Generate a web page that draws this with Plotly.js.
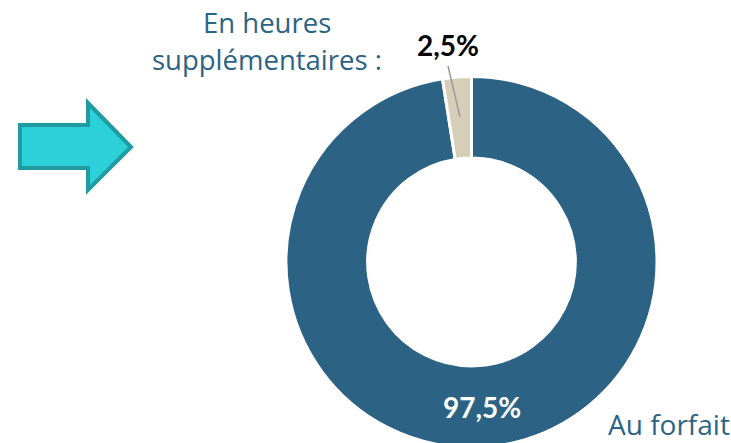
<!DOCTYPE html>
<html>
<head>
<meta charset="utf-8">
<script src="https://cdn.plot.ly/plotly-3.0.1.min.js"></script>
<style>
html,body{margin:0;padding:0;overflow:hidden;background:#fff;width:731px;height:443px;}
#chart{width:731px;height:524px;}
</style>
</head>
<body>
<div id="chart"></div>
<script>
// Data
const categories = ["Au forfait", "En heures supplémentaires :"];
const values = [97.5, 2.5];
const valueLabels = ["97,5%", "2,5%"];
const sliceColors = ["#2C6385", "#D6CEB8"];

const W = 731, H = 524;
const px = x => x / W;
const py = y => 1 - y / H;

const textFont = "'Open Sans', Lato, sans-serif";
const numFont = "Lato, 'Open Sans', sans-serif";
const blue = "#2C6385";

const trace = {
  type: "pie",
  labels: categories,
  values: values,
  sort: false,
  direction: "clockwise",
  rotation: 0,
  hole: 0.56,
  textinfo: "none",
  hoverinfo: "none",
  showlegend: false,
  marker: { colors: sliceColors, line: { color: "#ffffff", width: 3 } },
  domain: { x: [px(286), px(657)], y: [0, 1] }
};

// arrow path in pixel coords, converted to paper
const arrowPts = [[20,125],[88,125],[88,103],[131,147],[88,190],[88,168],[20,168]];
const arrowPath = "M " + arrowPts.map(p => px(p[0]).toFixed(5) + "," + py(p[1]).toFixed(5)).join(" L ") + " Z";

const layout = {
  width: W, height: H,
  margin: { l: 0, r: 0, t: 0, b: 0 },
  paper_bgcolor: "#ffffff",
  plot_bgcolor: "#ffffff",
  shapes: [
    { type: "path", xref: "paper", yref: "paper", path: arrowPath,
      fillcolor: "#2BD0D8", line: { color: "#1F9BA1", width: 4 } },
    { type: "line", xref: "paper", yref: "paper",
      x0: px(448), y0: py(66), x1: px(460), y1: py(117),
      line: { color: "#9A9A9A", width: 1.5 } }
  ],
  annotations: [
    { xref: "paper", yref: "paper", x: px(267), y: py(23), xanchor: "center", yanchor: "middle",
      text: categories[1].split(" ").slice(0,2).join(" "), showarrow: false,
      font: { family: textFont, size: 27.5, color: blue } },
    { xref: "paper", yref: "paper", x: px(267), y: py(60), xanchor: "center", yanchor: "middle",
      text: categories[1].split(" ").slice(2).join(" "), showarrow: false,
      font: { family: textFont, size: 27.5, color: blue } },
    { xref: "paper", yref: "paper", x: px(448), y: py(45), xanchor: "center", yanchor: "middle",
      text: "<b>" + valueLabels[1] + "</b>", showarrow: false,
      font: { family: numFont, size: 28, color: "#000000" } },
    { xref: "paper", yref: "paper", x: px(482), y: py(407), xanchor: "center", yanchor: "middle",
      text: "<b>" + valueLabels[0] + "</b>", showarrow: false,
      font: { family: numFont, size: 28, color: "#ffffff" } },
    { xref: "paper", yref: "paper", x: px(606), y: py(424), xanchor: "left", yanchor: "middle",
      text: categories[0], showarrow: false,
      font: { family: textFont, size: 28, color: blue } }
  ]
};

Plotly.newPlot("chart", [trace], layout, { displayModeBar: false, staticPlot: true });
</script>
</body>
</html>
